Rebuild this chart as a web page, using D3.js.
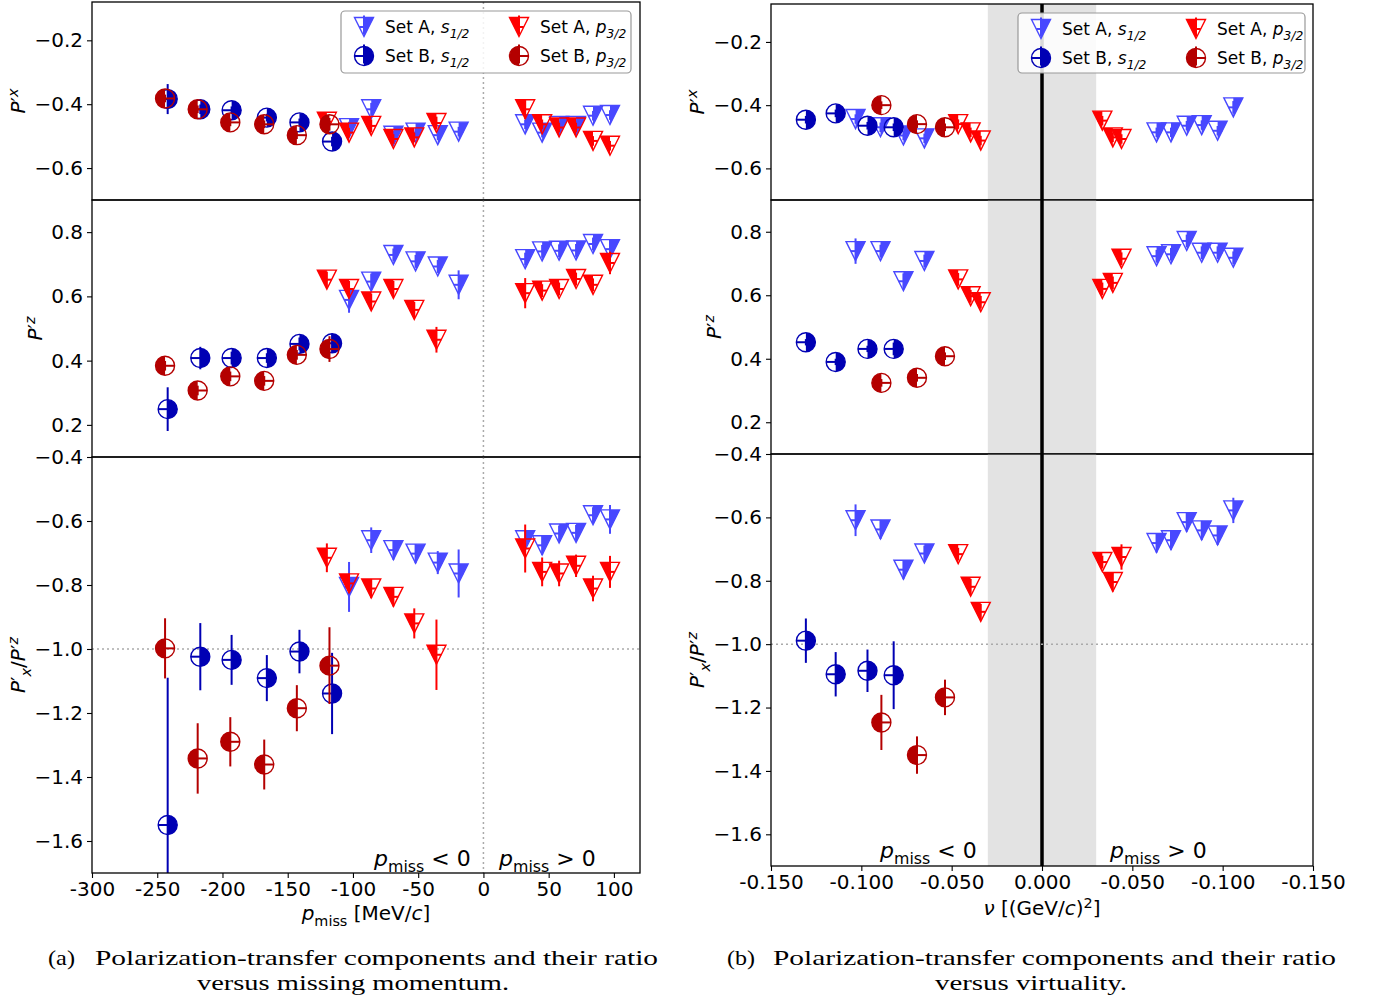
<!DOCTYPE html>
<html>
<head>
<meta charset="utf-8">
<script src="https://cdn.jsdelivr.net/npm/d3@7"></script>
<style>
    body { margin: 0; background: #fff; }
    svg text { font-family: "DejaVu Sans", sans-serif; }
    .caption { font-family: "Liberation Serif", "DejaVu Serif", serif; }
</style>
</head>
<body>
<svg id="fig" width="1374" height="999"></svg>
<script>
// --- Data: (a) versus missing momentum [MeV/c] ---
// Set A, s1/2 (light blue triangles)
const pmiss_As = [-103, -86, -69, -52, -35, -19, 32, 45, 58, 71, 84, 97];
const px_As    = [-0.475, -0.416, -0.499, -0.489, -0.497, -0.486, -0.463, -0.489, -0.468, -0.468, -0.436, -0.434];
const pxErr_As = [0.02, 0.02, 0.015, 0.015, 0.015, 0.015, 0.015, 0.015, 0.015, 0.015, 0.015, 0.015];
const pz_As    = [0.589, 0.646, 0.729, 0.709, 0.693, 0.636, 0.716, 0.740, 0.742, 0.743, 0.763, 0.747];
const pzErr_As = [0.04, 0.025, 0.02, 0.02, 0.02, 0.045, 0.02, 0.02, 0.02, 0.02, 0.02, 0.03];
const r_As     = [-0.806, -0.660, -0.691, -0.702, -0.730, -0.764, -0.660, -0.676, -0.639, -0.637, -0.582, -0.595];
const rErr_As  = [0.078, 0.04, 0.03, 0.03, 0.036, 0.075, 0.03, 0.03, 0.025, 0.025, 0.025, 0.045];

// Set A, p3/2 (red triangles)
const pmiss_Ap = [-120, -103, -86, -69, -53, -36, 32, 45, 58, 71, 84, 97];
const px_Ap    = [-0.455, -0.489, -0.468, -0.509, -0.504, -0.459, -0.416, -0.463, -0.473, -0.473, -0.515, -0.530];
const pxErr_Ap = [0.02, 0.015, 0.02, 0.015, 0.015, 0.02, 0.03, 0.015, 0.015, 0.015, 0.015, 0.015];
const pz_Ap    = [0.652, 0.623, 0.584, 0.623, 0.558, 0.465, 0.610, 0.618, 0.623, 0.654, 0.636, 0.704];
const pzErr_Ap = [0.025, 0.025, 0.025, 0.025, 0.025, 0.04, 0.047, 0.02, 0.02, 0.02, 0.02, 0.035];
const r_Ap     = [-0.715, -0.795, -0.811, -0.837, -0.920, -1.018, -0.686, -0.759, -0.764, -0.740, -0.811, -0.759];
const rErr_Ap  = [0.045, 0.03, 0.03, 0.03, 0.047, 0.11, 0.075, 0.045, 0.04, 0.035, 0.04, 0.05];

// Set B, s1/2 (dark blue circles)
const pmiss_Bs = [-242, -217, -193, -166, -141, -116];
const px_Bs    = [-0.384, -0.416, -0.419, -0.442, -0.457, -0.517];
const pxErr_Bs = [0.047, 0.015, 0.012, 0.012, 0.012, 0.015];
const pz_Bs    = [0.249, 0.408, 0.408, 0.408, 0.452, 0.454];
const pzErr_Bs = [0.068, 0.035, 0.02, 0.015, 0.02, 0.03];
const r_Bs     = [-1.550, -1.024, -1.034, -1.091, -1.008, -1.139];
const rErr_Bs  = [0.46, 0.105, 0.078, 0.072, 0.068, 0.127];

// Set B, p3/2 (dark red circles)
const pmiss_Bp = [-244, -219, -194, -168, -143, -118];
const px_Bp    = [-0.382, -0.416, -0.457, -0.463, -0.497, -0.463];
const pxErr_Bp = [0.012, 0.012, 0.012, 0.012, 0.012, 0.02];
const pz_Bp    = [0.384, 0.307, 0.351, 0.337, 0.418, 0.436];
const pzErr_Bp = [0.015, 0.015, 0.015, 0.015, 0.015, 0.04];
const r_Bp     = [-0.998, -1.342, -1.290, -1.361, -1.185, -1.052];
const rErr_Bp  = [0.094, 0.11, 0.077, 0.078, 0.072, 0.12];

// --- Data: (b) versus virtuality [(GeV/c)^2] ---
// position on the folded axis: left half = pmiss < 0, right half = pmiss > 0
const nu_As    = [-0.1032, -0.0894, -0.0767, -0.0651, 0.0634, 0.0714, 0.0801, 0.0884, 0.0972, 0.1059];
const vpx_As   = [-0.444, -0.470, -0.496, -0.505, -0.486, -0.486, -0.465, -0.463, -0.481, -0.407];
const vpxE_As  = [0.015, 0.015, 0.015, 0.015, 0.015, 0.015, 0.015, 0.015, 0.015, 0.02];
const vpz_As   = [0.739, 0.739, 0.644, 0.708, 0.723, 0.729, 0.771, 0.734, 0.734, 0.718];
const vpzE_As  = [0.04, 0.02, 0.025, 0.02, 0.02, 0.02, 0.02, 0.02, 0.02, 0.02];
const vr_As    = [-0.609, -0.638, -0.765, -0.714, -0.681, -0.672, -0.615, -0.641, -0.657, -0.578];
const vrE_As   = [0.05, 0.03, 0.03, 0.025, 0.03, 0.03, 0.03, 0.03, 0.03, 0.04];

const nu_Ap    = [-0.0464, -0.0395, -0.0339, 0.0334, 0.0392, 0.0440];
const vpx_Ap   = [-0.460, -0.486, -0.512, -0.449, -0.502, -0.507];
const vpxE_Ap  = [0.015, 0.015, 0.015, 0.015, 0.015, 0.015];
const vpz_Ap   = [0.650, 0.597, 0.578, 0.620, 0.639, 0.715];
const vpzE_Ap  = [0.02, 0.02, 0.02, 0.02, 0.02, 0.02];
const vr_Ap    = [-0.716, -0.819, -0.898, -0.741, -0.804, -0.725];
const vrE_Ap   = [0.02, 0.025, 0.025, 0.02, 0.03, 0.04];

const nu_Bs    = [-0.1307, -0.1142, -0.0966, -0.0821];
const vpx_Bs   = [-0.446, -0.426, -0.465, -0.470];
const vpxE_Bs  = [0.012, 0.012, 0.012, 0.012];
const vpz_Bs   = [0.452, 0.390, 0.431, 0.431];
const vpzE_Bs  = [0.01, 0.01, 0.01, 0.02];
const vr_Bs    = [-0.989, -1.095, -1.084, -1.098];
const vrE_Bs   = [0.07, 0.07, 0.067, 0.107];

const nu_Bp    = [-0.0889, -0.0692, -0.0537];
const vpx_Bp   = [-0.400, -0.460, -0.470];
const vpxE_Bp  = [0.012, 0.012, 0.012];
const vpz_Bp   = [0.324, 0.340, 0.408];
const vpzE_Bp  = [0.012, 0.012, 0.012];
const vr_Bp    = [-1.247, -1.350, -1.168];
const vrE_Bp   = [0.087, 0.059, 0.056];

// Tick labels
const pmissTicks = [-300, -250, -200, -150, -100, -50, 0, 50, 100];
const nuTicks = [-0.15, -0.10, -0.05, 0, 0.05, 0.10, 0.15];
const pxTicks = [-0.6, -0.4, -0.2];
const pzTicks = [0.2, 0.4, 0.6, 0.8];
const ratioTicks = [-1.6, -1.4, -1.2, -1.0, -0.8, -0.6, -0.4];

const COLORS = { As: "#4848ff", Bs: "#0000b4", Ap: "#ff0000", Bp: "#b40000" };
const R = 9.5; // marker half-size

const svg = d3.select("#fig");
svg.append("rect").attr("width", 1374).attr("height", 999).attr("fill", "#fff");
const defs = svg.append("defs");
let clipCount = 0;

// --- Helpers ---
function minusFmt(v, digits) {
    return d3.format("." + digits + "f")(v).replace("-", "\u2212");
}

function drawMarker(g, shape, half, color, cx, cy) {
    if (shape === "circle") {
        g.append("circle").attr("cx", cx).attr("cy", cy).attr("r", R)
            .attr("fill", "none").attr("stroke", color).attr("stroke-width", 1.4);
        const sweep = half === "right" ? 1 : 0;
        g.append("path")
            .attr("d", `M${cx},${cy - R}A${R},${R} 0 0 ${sweep} ${cx},${cy + R}Z`)
            .attr("fill", color);
    } else {
        const full = [[cx - R, cy - R], [cx + R, cy - R], [cx, cy + R]];
        const part = half === "right"
            ? [[cx, cy - R], [cx + R, cy - R], [cx, cy + R]]
            : [[cx - R, cy - R], [cx, cy - R], [cx, cy + R]];
        g.append("path").attr("d", d3.line()(full) + "Z")
            .attr("fill", "none").attr("stroke", color).attr("stroke-width", 1.4);
        g.append("path").attr("d", d3.line()(part) + "Z").attr("fill", color);
    }
}

function drawPoint(g, s, cx, cy, yTop, yBot) {
    const hw = s.shape === "circle" ? R : R * 0.5;
    g.append("line").attr("x1", cx).attr("x2", cx).attr("y1", yTop).attr("y2", yBot)
        .attr("stroke", s.color).attr("stroke-width", 2);
    g.append("line").attr("x1", cx - hw).attr("x2", cx + hw).attr("y1", cy).attr("y2", cy)
        .attr("stroke", s.color).attr("stroke-width", 2);
    drawMarker(g, s.shape, s.half, s.color, cx, cy);
}

function subText(sel, parts, size) {
    // parts: [text, style] with style n (normal), i (italic), sub, sup, si (italic sub), pi (italic sup)
    let shift = 0;
    parts.forEach(([t, st]) => {
        const ts = sel.append("tspan").text(t);
        let target = 0;
        if (st === "sub") { target = size * 0.28; ts.attr("font-size", size * 0.72); }
        if (st === "sup") { target = -size * 0.35; ts.attr("font-size", size * 0.72); }
        if (st === "i") ts.attr("font-style", "italic");
        if (st === "si") { target = size * 0.28; ts.attr("font-size", size * 0.72).attr("font-style", "italic"); }
        if (st === "pi") { target = -size * 0.35; ts.attr("font-size", size * 0.72).attr("font-style", "italic"); }
        ts.attr("dy", target - shift);
        shift = target;
    });
}

function drawLegend(g, x0, y0, w, h, series) {
    g.append("rect").attr("x", x0).attr("y", y0).attr("width", w).attr("height", h)
        .attr("rx", 4).attr("fill", "#fff").attr("fill-opacity", 0.85)
        .attr("stroke", "#999").attr("stroke-width", 1.2);
    series.forEach((s, i) => {
        const col = Math.floor(i / 2), row = i % 2;
        const mx = x0 + 23 + col * 155, my = y0 + 16 + row * 29;
        drawPoint(g, s, mx, my, my - R - 2, my + R - 2);
        const t = g.append("text").attr("x", mx + 21).attr("y", my + 6).attr("font-size", 17);
        subText(t, [[s.setName + ", ", "n"], [s.orbit[0], "i"], [s.orbit[1], "si"]], 17);
    });
}

// --- Figure builder ---
function drawFigure(cfg) {
    const g = svg.append("g");
    const x = d3.scaleLinear().domain(cfg.xDomain).range(cfg.xRange);
    const [left, right] = cfg.xRange;

    cfg.panels.forEach((p, pi) => {
        const y = d3.scaleLinear().domain(p.domain).range([p.bottom, p.top]);
        const clipId = "clip" + (clipCount++);
        defs.append("clipPath").attr("id", clipId).append("rect")
            .attr("x", left).attr("y", p.top).attr("width", right - left).attr("height", p.bottom - p.top);
        const pg = g.append("g").attr("clip-path", `url(#${clipId})`);

        if (cfg.band) {
            pg.append("rect").attr("x", x(-cfg.band)).attr("width", x(cfg.band) - x(-cfg.band))
                .attr("y", p.top).attr("height", p.bottom - p.top).attr("fill", "#e3e3e3");
        }
        if (cfg.zeroLine === "solid") {
            pg.append("line").attr("x1", x(0)).attr("x2", x(0)).attr("y1", p.top).attr("y2", p.bottom)
                .attr("stroke", "#000").attr("stroke-width", 3.5);
        } else {
            pg.append("line").attr("x1", x(0)).attr("x2", x(0)).attr("y1", p.top).attr("y2", p.bottom)
                .attr("stroke", "#aaa").attr("stroke-width", 1.5).attr("stroke-dasharray", "2,3");
        }
        if (p.hline !== undefined) {
            pg.append("line").attr("x1", left).attr("x2", right).attr("y1", y(p.hline)).attr("y2", y(p.hline))
                .attr("stroke", "#aaa").attr("stroke-width", 1.5).attr("stroke-dasharray", "2,3");
        }

        // points
        cfg.series.forEach(s => {
            s.x.forEach((xv, i) => {
                const v = s.y[pi][i], e = s.e[pi][i];
                drawPoint(pg, s, x(xv), y(v), y(v + e), y(v - e));
            });
        });

        // frame
        g.append("rect").attr("x", left).attr("y", p.top).attr("width", right - left)
            .attr("height", p.bottom - p.top).attr("fill", "none").attr("stroke", "#000").attr("stroke-width", 1.3);

        // y axis
        const ya = g.append("g").attr("transform", `translate(${left},0)`)
            .call(d3.axisLeft(y).tickValues(p.ticks).tickSize(5).tickPadding(4).tickFormat(v => minusFmt(v, 1)));
        ya.select(".domain").remove();
        ya.selectAll("text").attr("font-size", 20).attr("font-family", "DejaVu Sans").attr("fill", "#000");
        ya.selectAll("line").attr("stroke", "#000").attr("stroke-width", 1.1);

        // y label
        const lt = g.append("text").attr("font-size", 20).attr("text-anchor", "middle")
            .attr("transform", `translate(${p.labelX},${(p.top + p.bottom) / 2}) rotate(-90)`);
        subText(lt, p.label, 20);
    });

    // x axis on bottom panel
    const last = cfg.panels[cfg.panels.length - 1];
    const xa = g.append("g").attr("transform", `translate(0,${last.bottom})`)
        .call(d3.axisBottom(x).tickValues(cfg.xTicks).tickSize(5).tickPadding(4).tickFormat(cfg.xFormat));
    xa.select(".domain").remove();
    xa.selectAll("text").attr("font-size", 20).attr("font-family", "DejaVu Sans").attr("fill", "#000");
    xa.selectAll("line").attr("stroke", "#000").attr("stroke-width", 1.1);

    const xl = g.append("text").attr("x", (left + right) / 2).attr("y", cfg.xLabelY)
        .attr("font-size", 20).attr("text-anchor", "middle");
    subText(xl, cfg.xLabel, 20);

    // pmiss side annotations
    cfg.notes.forEach(n => {
        const t = g.append("text").attr("x", n.x).attr("y", n.y).attr("font-size", 22);
        subText(t, [["p", "i"], ["miss", "sub"], [n.text, "n"]], 22);
    });

    drawLegend(g, cfg.legend[0], cfg.legend[1], cfg.legend[2], cfg.legend[3], cfg.series);

    // caption
    const c1 = g.append("text").attr("class", "caption").attr("font-size", 22).attr("y", cfg.capY);
    c1.append("tspan").attr("x", cfg.capTag[0]).attr("textLength", cfg.capTag[1])
        .attr("lengthAdjust", "spacingAndGlyphs").text(cfg.tag);
    c1.append("tspan").attr("x", cfg.cap1[0]).attr("textLength", cfg.cap1[1])
        .attr("lengthAdjust", "spacingAndGlyphs").text("Polarization-transfer components and their ratio");
    g.append("text").attr("class", "caption").attr("font-size", 22).attr("y", cfg.capY + 25)
        .attr("x", cfg.cap2[0]).attr("textLength", cfg.cap2[1]).attr("lengthAdjust", "spacingAndGlyphs")
        .text(cfg.cap2[2]);
}

function seriesSet(xs, ys, es) {
    return [
        { setName: "Set A", orbit: ["s", "1/2"], shape: "tri", half: "right", color: COLORS.As, x: xs[0], y: ys[0], e: es[0] },
        { setName: "Set B", orbit: ["s", "1/2"], shape: "circle", half: "right", color: COLORS.Bs, x: xs[1], y: ys[1], e: es[1] },
        { setName: "Set A", orbit: ["p", "3/2"], shape: "tri", half: "left", color: COLORS.Ap, x: xs[2], y: ys[2], e: es[2] },
        { setName: "Set B", orbit: ["p", "3/2"], shape: "circle", half: "left", color: COLORS.Bp, x: xs[3], y: ys[3], e: es[3] }
    ];
}

const labPx = [["P", "i"], ["\u2032", "n"], ["x", "pi"]];
const labPz = [["P", "i"], ["\u2032", "n"], ["z", "pi"]];
const labR = [["P", "i"], ["\u2032", "n"], ["x", "si"], ["/", "n"], ["P", "i"], ["\u2032", "n"], ["z", "pi"]];

// (a) missing momentum
drawFigure({
    xDomain: [-300, 120], xRange: [92, 640],
    xTicks: pmissTicks, xFormat: v => String(v),
    xLabel: [["p", "i"], ["miss", "sub"], [" [MeV/", "n"], ["c", "i"], ["]", "n"]], xLabelY: 920,
    zeroLine: "dotted",
    panels: [
        { top: 2, bottom: 200, domain: [-0.7, -0.08], ticks: pxTicks, label: labPx, labelX: 25 },
        { top: 200, bottom: 457, domain: [0.1, 0.9], ticks: pzTicks, label: labPz, labelX: 42 },
        { top: 457, bottom: 873, domain: [-1.7, -0.4], ticks: ratioTicks, label: labR, labelX: 25, hline: -1.0 }
    ],
    series: seriesSet(
        [pmiss_As, pmiss_Bs, pmiss_Ap, pmiss_Bp],
        [[px_As, pz_As, r_As], [px_Bs, pz_Bs, r_Bs], [px_Ap, pz_Ap, r_Ap], [px_Bp, pz_Bp, r_Bp]],
        [[pxErr_As, pzErr_As, rErr_As], [pxErr_Bs, pzErr_Bs, rErr_Bs], [pxErr_Ap, pzErr_Ap, rErr_Ap], [pxErr_Bp, pzErr_Bp, rErr_Bp]]
    ),
    notes: [{ x: 374, y: 866, text: " < 0" }, { x: 499, y: 866, text: " > 0" }],
    legend: [341, 11, 290, 62],
    tag: "(a)", capTag: [48, 27], cap1: [95, 563], cap2: [197, 312, "versus missing momentum."], capY: 965
});

// (b) virtuality
drawFigure({
    xDomain: [-0.15, 0.15], xRange: [771, 1313],
    xTicks: nuTicks, xFormat: v => Math.abs(v) < 1e-9 ? "0.000" : "-" + Math.abs(v).toFixed(3),
    xLabel: [["\u03bd", "i"], ["  [(GeV/", "n"], ["c", "i"], [")", "n"], ["2", "sup"], ["]", "n"]], xLabelY: 915,
    zeroLine: "solid", band: 0.03,
    panels: [
        { top: 4, bottom: 200, domain: [-0.7, -0.08], ticks: pxTicks, label: labPx, labelX: 704 },
        { top: 200, bottom: 454, domain: [0.1, 0.9], ticks: pzTicks, label: labPz, labelX: 721 },
        { top: 454, bottom: 866, domain: [-1.7, -0.4], ticks: ratioTicks, label: labR, labelX: 704, hline: -1.0 }
    ],
    series: seriesSet(
        [nu_As, nu_Bs, nu_Ap, nu_Bp],
        [[vpx_As, vpz_As, vr_As], [vpx_Bs, vpz_Bs, vr_Bs], [vpx_Ap, vpz_Ap, vr_Ap], [vpx_Bp, vpz_Bp, vr_Bp]],
        [[vpxE_As, vpzE_As, vrE_As], [vpxE_Bs, vpzE_Bs, vrE_Bs], [vpxE_Ap, vpzE_Ap, vrE_Ap], [vpxE_Bp, vpzE_Bp, vrE_Bp]]
    ),
    notes: [{ x: 880, y: 858, text: " < 0" }, { x: 1110, y: 858, text: " > 0" }],
    legend: [1018, 13, 287, 60],
    tag: "(b)", capTag: [727, 28], cap1: [773, 563], cap2: [935, 192, "versus virtuality."], capY: 965
});
</script>
</body>
</html>
